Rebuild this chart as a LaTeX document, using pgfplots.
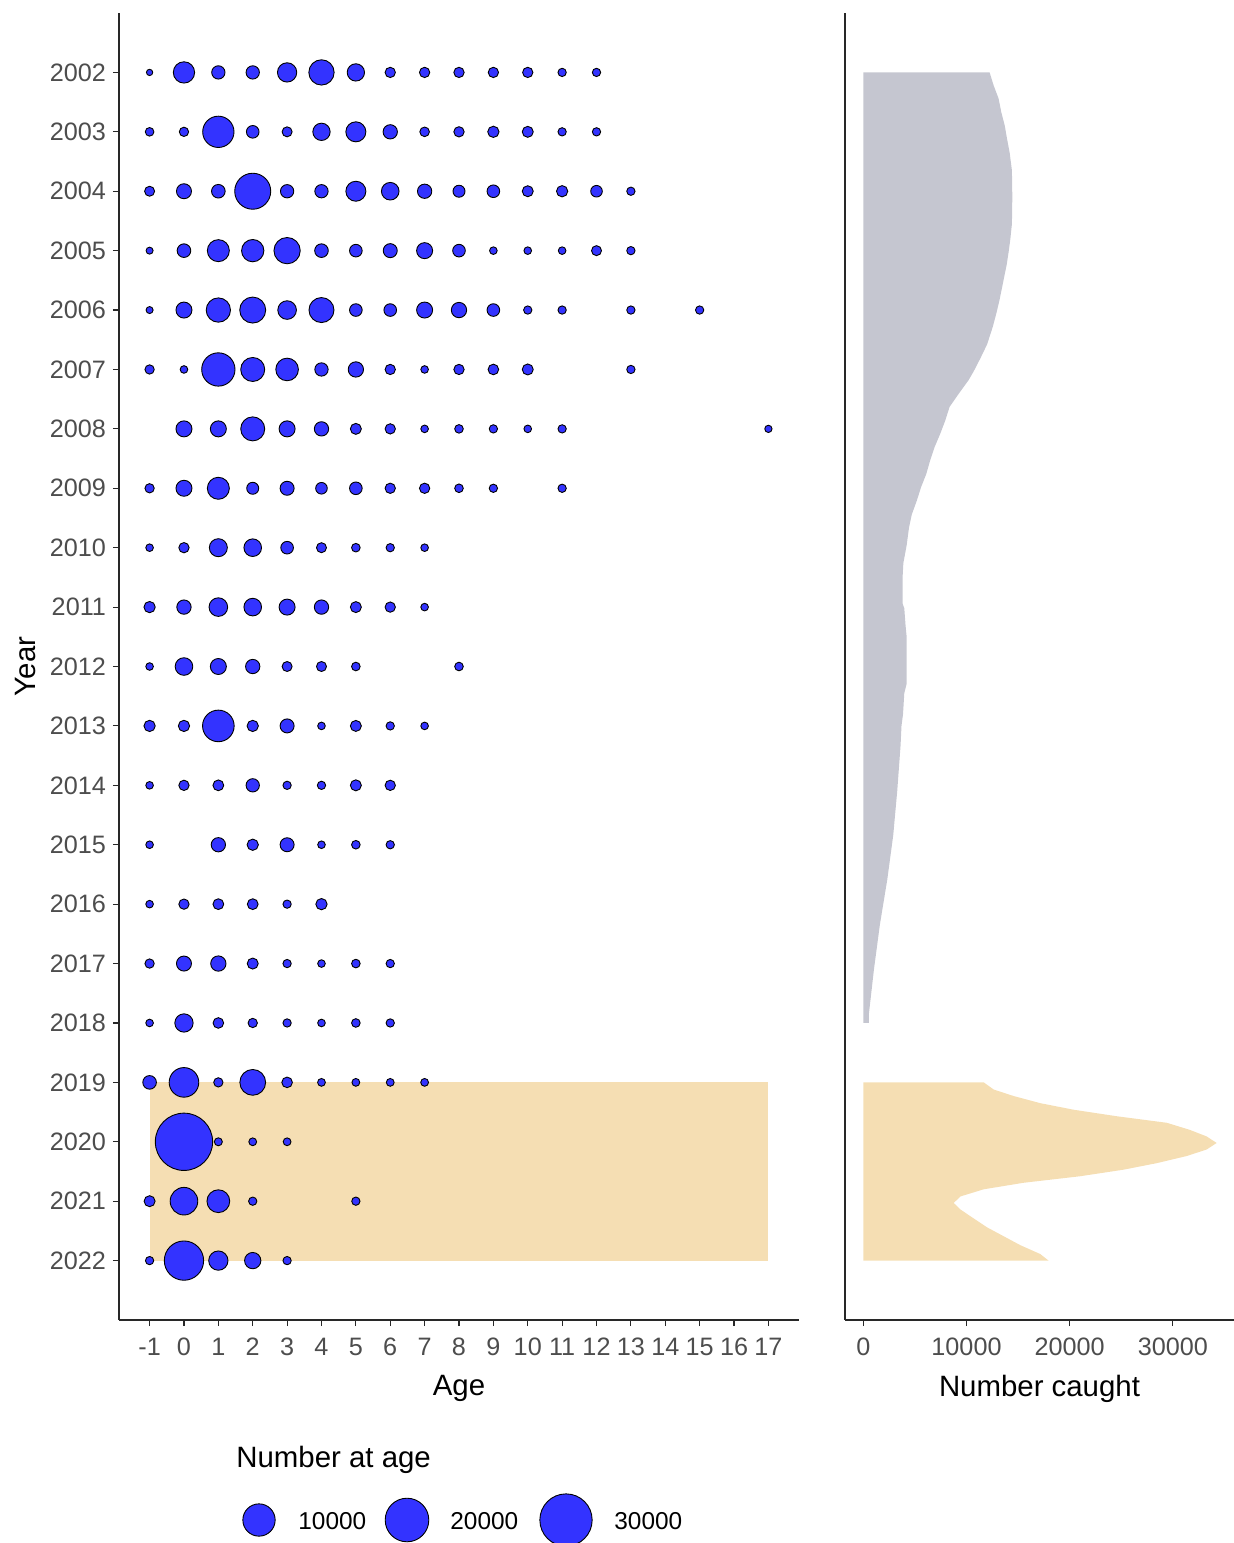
\documentclass[border=0pt]{standalone}
\usepackage{pgfplots}
\pgfplotsset{compat=1.18}
\usepackage{fontspec}
\setmainfont{Liberation Sans}
\definecolor{bubble}{RGB}{51,51,255}
\definecolor{wheatc}{RGB}{245,222,179}
\definecolor{grayarea}{RGB}{197,198,208}
\definecolor{ticktext}{RGB}{77,77,77}
\definecolor{axline}{RGB}{40,40,40}

\pgfplotstableread{
age year n
-1 2002 23
0 2002 3565
1 2002 924
2 2002 924
3 2002 2744
4 2002 5530
5 2002 2030
6 2002 377
7 2002 377
8 2002 377
9 2002 377
10 2002 377
11 2002 146
12 2002 146
-1 2003 174
0 2003 248
1 2003 9280
2 2003 775
3 2003 335
4 2003 2030
5 2003 3019
6 2003 1160
7 2003 284
8 2003 377
9 2003 532
10 2003 483
11 2003 146
12 2003 146
-1 2004 335
0 2004 1342
1 2004 992
2 2004 12890
3 2004 924
4 2004 924
5 2004 3019
6 2004 2130
7 2004 1160
8 2004 657
9 2004 775
10 2004 483
11 2004 532
12 2004 584
13 2004 146
-1 2005 54
0 2005 992
1 2005 3878
2 2005 4016
3 2005 6087
4 2005 992
5 2005 775
6 2005 1087
7 2005 1624
8 2005 775
9 2005 91
10 2005 91
11 2005 91
12 2005 335
13 2005 146
-1 2006 54
0 2006 1624
1 2006 4998
2 2006 5917
3 2006 2482
4 2006 5367
5 2006 775
6 2006 775
7 2006 1624
8 2006 1424
9 2006 775
10 2006 146
11 2006 146
13 2006 146
15 2006 146
-1 2007 248
0 2007 91
1 2007 10746
2 2007 4844
3 2007 4156
4 2007 924
5 2007 1424
6 2007 377
7 2007 91
8 2007 377
9 2007 421
10 2007 483
13 2007 146
0 2008 1624
1 2008 1624
2 2008 4844
3 2008 1624
4 2008 1160
5 2008 483
6 2008 377
7 2008 91
8 2008 174
9 2008 146
10 2008 91
11 2008 146
17 2008 71
-1 2009 248
0 2009 1624
1 2009 3878
2 2009 657
3 2009 1087
4 2009 584
5 2009 775
6 2009 377
7 2009 377
8 2009 174
9 2009 146
11 2009 146
-1 2010 91
0 2010 377
1 2010 2268
2 2010 2130
3 2010 775
4 2010 335
5 2010 174
6 2010 146
7 2010 91
-1 2011 532
0 2011 1160
1 2011 2482
2 2011 2130
3 2011 1624
4 2011 1160
5 2011 483
6 2011 377
7 2011 91
-1 2012 91
0 2012 2130
1 2012 1624
2 2012 1160
3 2012 335
4 2012 335
5 2012 174
8 2012 174
-1 2013 532
0 2013 532
1 2013 9494
2 2013 532
3 2013 1087
4 2013 91
5 2013 483
6 2013 146
7 2013 91
-1 2014 91
0 2014 377
1 2014 451
2 2014 924
3 2014 146
4 2014 146
5 2014 483
6 2014 377
-1 2015 91
1 2015 1160
2 2015 532
3 2015 1087
4 2015 91
5 2015 174
6 2015 146
-1 2016 91
0 2016 377
1 2016 451
2 2016 451
3 2016 146
4 2016 532
-1 2017 248
0 2017 1342
1 2017 1424
2 2017 483
3 2017 146
4 2017 91
5 2017 174
6 2017 146
-1 2018 91
0 2018 2374
1 2018 421
2 2018 248
3 2018 146
4 2018 91
5 2018 174
6 2018 146
-1 2019 992
0 2019 8120
1 2019 248
2 2019 5800
3 2019 421
4 2019 105
5 2019 105
6 2019 105
7 2019 105
0 2020 36700
1 2020 121
2 2020 105
3 2020 105
-1 2021 483
0 2021 6853
1 2021 4250
2 2021 146
5 2021 146
-1 2022 146
0 2022 15786
1 2022 2744
2 2022 1713
3 2022 146
}\natage

\pgfplotstableread{
caught year
0 2002
12240 2002
12630 2002.22
13110 2002.44
13370 2002.67
13700 2002.89
13930 2003.12
14180 2003.35
14400 2003.65
14440 2004.1
14400 2004.55
14250 2004.8
14100 2005.0
13900 2005.23
13550 2005.53
13200 2005.83
12900 2006.05
12550 2006.28
11990 2006.58
11350 2006.81
10700 2007.03
10200 2007.18
9240 2007.41
8360 2007.63
7940 2007.86
7460 2008.08
6900 2008.31
6480 2008.53
6100 2008.76
5600 2008.98
5180 2009.21
4700 2009.44
4430 2009.66
4200 2009.96
3880 2010.26
3810 2010.49
3810 2010.94
3970 2011.02
4100 2011.32
4200 2011.5
4200 2012.29
3970 2012.45
3850 2012.8
3700 2013.0
3610 2013.33
3290 2014.09
2900 2014.84
2320 2015.59
1610 2016.34
1030 2017.10
540 2017.85
540 2018
0 2018
}\caughtA

\pgfplotstableread{
caught year
0 2019
11670 2019
12630 2019.12
14570 2019.23
17150 2019.35
20370 2019.46
24560 2019.57
29400 2019.68
31650 2019.80
33270 2019.91
34240 2020.02
33270 2020.13
31330 2020.24
28430 2020.36
25200 2020.47
21010 2020.58
15530 2020.69
11660 2020.80
9410 2020.92
8760 2021.03
9410 2021.14
10700 2021.29
11990 2021.44
13600 2021.59
15210 2021.74
17150 2021.89
17950 2022
0 2022
}\caughtB

\pgfplotsset{
  bub/.style={scatter, only marks, mark=*,
    mark options={line width=0.45pt},
    scatter/use mapped color={draw=black, fill=bubble},
    visualization depends on={1.25+0.06825*sqrt(\thisrow{n}) \as \msize},
    scatter/@pre marker code/.append style={/tikz/mark size=\msize pt}},
  panel/.style={scale only axis, anchor=south west, height=653.5pt,
    ymin=2001, ymax=2023, y dir=reverse,
    axis x line*=bottom, axis y line*=left,
    tick align=outside, major tick length=3pt,
    tick style={axline, line width=0.55pt},
    axis line style={axline, line width=0.65pt},
    tick label style={font=\fontsize{12.6}{14}\selectfont, text=ticktext},
    xticklabel style={yshift=-2.5pt},
    label style={font=\fontsize{14.7}{16}\selectfont, text=black},
    xlabel style={yshift=-3pt},
    /pgf/number format/assume math mode=true,
    /pgf/number format/set thousands separator={},
  },
}

\begin{document}
\begin{tikzpicture}
\useasboundingbox (0,0) rectangle (617pt,771.5pt);

\begin{axis}[panel, at={(59.5pt,111.5pt)}, width=340pt,
  xmin=-1.89, xmax=17.89,
  xtick={-1,0,...,17}, ytick={2002,2003,...,2022},
  xlabel={Age}, ylabel={Year}]
\addplot[fill=wheatc, draw=none] coordinates {(-1,2019) (17,2019) (17,2022) (-1,2022)} -- cycle;
\addplot[bub] table[x=age, y=year] {\natage};
\end{axis}

\begin{axis}[panel, at={(422.5pt,111.5pt)}, width=194.5pt,
  xmin=-1773, xmax=35920, scaled x ticks=false,
  xtick={0,10000,20000,30000}, ytick=\empty,
  xlabel={Number caught}]
\addplot[fill=grayarea, draw=none] table[x=caught, y=year] {\caughtA} -- cycle;
\addplot[fill=wheatc, draw=none] table[x=caught, y=year] {\caughtB} -- cycle;
\end{axis}

\begin{axis}[at={(0pt,0pt)}, anchor=south west, scale only axis,
  width=617pt, height=771.5pt, xmin=0, xmax=1234, ymin=0, ymax=1543,
  y dir=reverse, hide axis, clip=false]
\addplot[bub] table[x=x, y=y] {
x y n
259 1520 10000
407 1520 20000
566 1520 30000
};
\node[anchor=west, font=\fontsize{14.7}{16}\selectfont, inner sep=0pt] at (axis cs:236,1460) {Number at age};
\node[anchor=west, font=\fontsize{12.2}{14}\selectfont, inner sep=0pt] at (axis cs:298,1521) {10000};
\node[anchor=west, font=\fontsize{12.2}{14}\selectfont, inner sep=0pt] at (axis cs:450,1521) {20000};
\node[anchor=west, font=\fontsize{12.2}{14}\selectfont, inner sep=0pt] at (axis cs:614,1521) {30000};
\end{axis}
\end{tikzpicture}
\end{document}
